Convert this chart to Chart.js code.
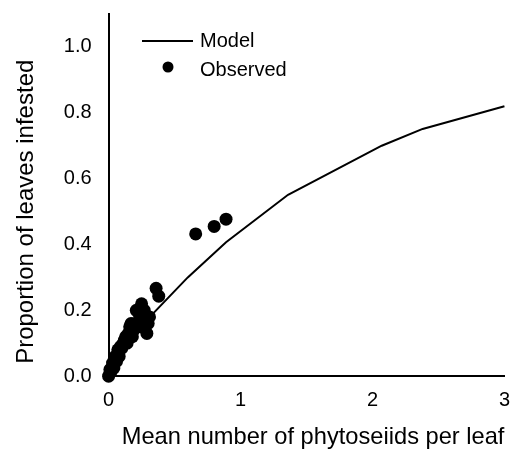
<!DOCTYPE html>
<html>
<head>
<meta charset="utf-8">
<script src="https://cdn.jsdelivr.net/npm/chart.js@4"></script>
<style>
  html, body { margin: 0; padding: 0; background: #fff; }
  #wrap { width: 517px; height: 457px; }
</style>
</head>
<body>
<div id="wrap"><canvas id="grafico" width="517" height="457"></canvas></div>
<script>
// curva do modelo
var modelX = [0, 0.1, 0.2, 0.3, 0.6, 0.89, 1.36, 2.07, 2.38, 3.0];
var modelY = [0, 0.06, 0.12, 0.175, 0.30, 0.407, 0.551, 0.70, 0.751, 0.82];

// pontos observados
var obsX = [0, 0.01, 0.01, 0.02, 0.03, 0.03, 0.04, 0.05, 0.05, 0.06, 0.07, 0.07, 0.08, 0.09,
            0.10, 0.11, 0.12, 0.13, 0.14, 0.15, 0.16, 0.17, 0.18, 0.19, 0.20, 0.21, 0.23, 0.24,
            0.25, 0.26, 0.27, 0.29, 0.30, 0.31, 0.36, 0.38, 0.66, 0.80, 0.89];
var obsY = [0, 0.01, 0.02, 0.015, 0.03, 0.04, 0.025, 0.05, 0.06, 0.045, 0.065, 0.08, 0.06, 0.09,
            0.085, 0.10, 0.11, 0.12, 0.10, 0.13, 0.15, 0.16, 0.12, 0.14, 0.16, 0.20, 0.19, 0.15,
            0.22, 0.17, 0.20, 0.13, 0.16, 0.18, 0.267, 0.243, 0.432, 0.455, 0.477];

// rotulos dos eixos
var yTicks = [0, 0.2, 0.4, 0.6, 0.8, 1.0];
var xTicks = [0, 1, 2, 3];

var FONT = 'Liberation Sans, Arial, sans-serif';

var modelData = modelX.map(function (x, i) { return { x: x, y: modelY[i] }; });
var obsData = obsX.map(function (x, i) { return { x: x, y: obsY[i] }; });

// legenda empilhada dentro do grafico
var legendaPlugin = {
    id: 'legenda',
    afterDraw: function (chart) {
        var ctx = chart.ctx;
        var ds = chart.data.datasets;
        ctx.save();
        ctx.font = '20px ' + FONT;
        ctx.fillStyle = '#000';
        ctx.textBaseline = 'middle';
        // Model
        ctx.strokeStyle = '#000';
        ctx.lineWidth = 2;
        ctx.beginPath();
        ctx.moveTo(142, 41);
        ctx.lineTo(193, 41);
        ctx.stroke();
        ctx.fillText(ds[0].label, 200, 41);
        // Observed
        ctx.beginPath();
        ctx.arc(168, 67, 5.5, 0, Math.PI * 2);
        ctx.fill();
        ctx.fillText(ds[1].label, 200, 70);
        ctx.restore();
    }
};

var ctx = document.querySelector('#grafico').getContext('2d');
var chart = new Chart(ctx, {
    type: 'scatter',
    data: {
        datasets: [{
            label: 'Model',
            type: 'line',
            data: modelData,
            borderColor: '#000',
            borderWidth: 2,
            pointRadius: 0,
            fill: false,
            tension: 0,
            clip: false
        },
        {
            label: 'Observed',
            data: obsData,
            backgroundColor: '#000',
            borderColor: '#000',
            pointRadius: 6.5,
            borderWidth: 0,
            clip: false
        }]
    },
    options: {
        responsive: false,
        animation: false,
        layout: { padding: { top: 7, right: 5, left: 4, bottom: 5 } },
        plugins: { legend: { display: false }, tooltip: { enabled: false } },
        scales: {
            x: {
                type: 'linear',
                min: 0,
                max: 3,
                afterBuildTicks: function (s) { s.ticks = xTicks.map(function (v) { return { value: v }; }); },
                grid: { display: false, drawOnChartArea: false, drawTicks: true, tickLength: 5, color: '#000', tickWidth: 2 },
                border: { display: true, color: '#000', width: 2 },
                ticks: { color: '#000', font: { family: FONT, size: 20 }, padding: 7, maxRotation: 0 },
                title: { display: true, text: '  Mean number of phytoseiids per leaf', color: '#000',
                         font: { family: FONT, size: 24 }, padding: { top: 4, bottom: 0 } }
            },
            y: {
                type: 'linear',
                min: 0,
                max: 1.1,
                afterBuildTicks: function (s) { s.ticks = yTicks.map(function (v) { return { value: v }; }); },
                grid: { display: false, drawOnChartArea: false, drawTicks: true, tickLength: 5, color: '#000', tickWidth: 2 },
                border: { display: true, color: '#000', width: 2 },
                ticks: { color: '#000', font: { family: FONT, size: 20, lineHeight: 0.2 }, padding: 12,
                         callback: function (v) { return v.toFixed(1); } },
                title: { display: true, text: 'Proportion of leaves infested     ', color: '#000',
                         font: { family: FONT, size: 24 }, padding: { top: 8, bottom: 11 } }
            }
        }
    },
    plugins: [legendaPlugin]
});
</script>
</body>
</html>
